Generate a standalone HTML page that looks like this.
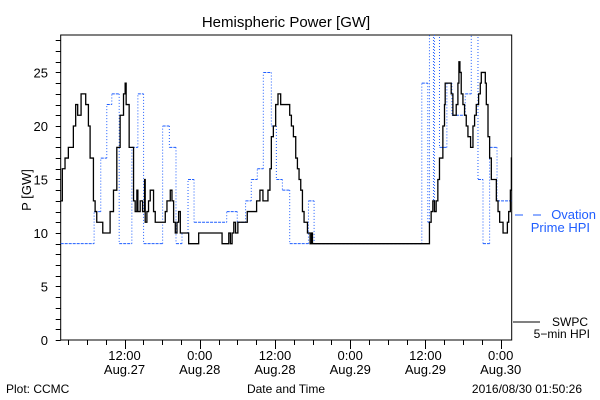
<!DOCTYPE html>
<html><head><meta charset="utf-8">
<style>
html,body{margin:0;padding:0;background:#fff;}
svg{display:block;font-family:"Liberation Sans",sans-serif;}
</style></head>
<body>
<svg id="chart" width="600" height="400" viewBox="0 0 600 400">
<text x="286" y="27" font-size="15" text-anchor="middle">Hemispheric Power [GW]</text>
<text transform="translate(31,190) rotate(-90)" font-size="13" text-anchor="middle">P [GW]</text>
<text x="286" y="393" font-size="12" text-anchor="middle">Date and Time</text>
<text x="6" y="393" font-size="12">Plot: CCMC</text>
<text x="582" y="393" font-size="12" text-anchor="end">2016/08/30 01:50:26</text>
<g id="axes"></g>
<g id="series"></g>
<g>
  <line x1="515" y1="215" x2="523" y2="215" stroke="#1f5eff" stroke-width="1"/>
  <line x1="533" y1="215" x2="541" y2="215" stroke="#1f5eff" stroke-width="1"/>
  <text x="596" y="219" font-size="13" fill="#1f5eff" text-anchor="end">Ovation</text>
  <text x="590" y="232" font-size="13" fill="#1f5eff" text-anchor="end">Prime HPI</text>
  <line x1="513" y1="322" x2="540" y2="322" stroke="#000" stroke-width="1"/>
  <text x="588" y="326" font-size="12" text-anchor="end">SWPC</text>
  <text x="590" y="338" font-size="12" text-anchor="end">5−min HPI</text>
</g>
</svg>
<script>
// hours since Aug 27 00:00
const swpcTimes = [1.82,2.08,2.51,3.04,3.84,4.21,4.53,5.07,5.81,6.24,6.51,7.04,7.31,7.57,8.53,9.44,9.7,10.24,10.77,11.3,11.84,12.1,12.26,12.74,13.44,13.7,13.97,14.13,14.5,14.88,15.2,15.3,15.57,15.83,16.1,16.63,16.9,18.5,18.77,19.3,19.57,19.83,20.1,20.37,20.63,20.9,22.23,23.83,27.56,28.63,28.89,29.16,29.43,29.71,30.08,31.58,33.07,33.6,34.08,34.88,35.2,35.42,35.74,36.11,36.48,36.91,38.35,38.62,38.94,39.31,39.58,39.84,40.11,40.38,40.64,41.18,41.6,41.82,41.98,60.64,60.91,61.18,61.44,61.71,61.98,62.24,62.78,63.04,63.15,64.11,64.38,64.91,65.18,65.34,65.5,65.71,65.98,66.24,66.51,66.78,67.2,67.58,67.84,68.11,68.48,68.75,68.91,69.55,69.71,69.98,70.24,70.51,71.31,71.58,71.84,72.38,73.07,73.28,73.55,73.71];
const swpcValues = [13,16,17,18,20,22,21,23,22,20,17,13,12,11,10,10,12,14,18,21,23,24,22,18,13,12,14,12,13,12,15,11,12,13,14,12,11,12,13,14,13,11,10,11,12,10,9,10,9,10,9,10,11,10,11,12,13,14,13,14,16,19,20,22,23,22,21,20,19,17,16,15,14,12,11,10,9,10,9,11,12,13,12,13,15,17,20,22,24,23,21,22,24,26,25,23,22,21,20,19,18,20,21,22,23,24,25,24,22,19,17,15,13,12,11,10,11,12,14,17];
const ovationTimes = [1.82,7.15,8.21,9.17,9.97,11.15,13.17,14.13,15.04,18.08,19.15,20.21,21.17,22.13,23.09,28.3,29.98,31.31,32.22,33.18,34.14,35.42,36.22,37.18,38.35,41.34,42.24,59.42,60.38,60.64,61.28,61.44,62.24,63.42,64.22,66.35,67.31,68.38,69.18,70.24,71.42];
const ovationValues = [9,12,17,22,23,9,18,23,9,20,18,9,10,15,11,12,11,13,15,16,25,20,15,14,9,13,9,24,11,30,13,30,18,24,21,23,30,15,9,18,13];
const xTickLabels = ["12:00","0:00","12:00","0:00","12:00","0:00"];
const xTickDates = ["Aug.27","Aug.28","Aug.28","Aug.29","Aug.29","Aug.30"];
const xTickHours = [12,24,36,48,60,72];
const yTickLabels = ["0","5","10","15","20","25"];

const NS="http://www.w3.org/2000/svg";
const L=60.7,R=511.7,T=35,B=340;
const H0=1.82,H1=73.76,VMAX=28.5;
const xs=h=>L+(h-H0)/(H1-H0)*(R-L);
const ys=v=>B-v/VMAX*(B-T);
function mk(tag,attrs,parent){const e=document.createElementNS(NS,tag);for(const k in attrs)e.setAttribute(k,attrs[k]);parent.appendChild(e);return e;}
const axes=document.getElementById('axes');
const frame=mk('rect',{x:L,y:T,width:R-L,height:B-T,fill:'none',stroke:'#000','stroke-width':1},axes);


for(let v=0;v<=28;v++){
  const y=Math.round(ys(v))+0.5;
  const t=mk('line',{x1:L-5,x2:L,y1:y,y2:y,stroke:'#000'},axes);
  
  
}
yTickLabels.forEach((s)=>{
  const t=mk('text',{x:48,y:ys(+s)+5,'font-size':13,'text-anchor':'end'},axes);
  t.textContent=s;
  
  
});
for(let h=3;h<=72;h+=3){
  const x=Math.round(xs(h))+0.5,len=(h%12===0)?9:5;
  const t=mk('line',{x1:x,x2:x,y1:B,y2:B+len,stroke:'#000'},axes);
  
  
}
xTickHours.forEach((h,i)=>{
  const x=xs(h);
  const a=mk('text',{x:x,y:360,'font-size':13,'text-anchor':'middle'},axes);
  a.textContent=xTickLabels[i];
  
  
  const b=mk('text',{x:x,y:374,'font-size':13,'text-anchor':'middle'},axes);
  b.textContent=xTickDates[i];
  
  
});
const series=document.getElementById('series');
const defs=mk('defs',{},series);
const cp=mk('clipPath',{id:'clip'},defs);
mk('rect',{x:L,y:T,width:R-L,height:B-T},cp);
// ovation: dashed horizontals, dotted verticals
let hd='',vd='';
for(let i=0;i<ovationTimes.length;i++){
  const x0=xs(ovationTimes[i]);
  const x1=i+1<ovationTimes.length?xs(ovationTimes[i+1]):R;
  const y=ys(ovationValues[i]);
  hd+=`M${x0},${y}H${x1}`;
  if(i+1<ovationTimes.length) vd+=`M${x1},${y}V${ys(ovationValues[i+1])}`;
}
const oh=mk('path',{d:hd,fill:'none',stroke:'#1f5eff','stroke-width':1,'stroke-dasharray':'3,1','clip-path':'url(#clip)'},series);


const ov=mk('path',{d:vd,fill:'none',stroke:'#1f5eff','stroke-width':1,'stroke-dasharray':'1,2','clip-path':'url(#clip)'},series);


// swpc: step line
let d='';
for(let i=0;i<swpcTimes.length;i++){
  const x0=xs(swpcTimes[i]);
  const x1=i+1<swpcTimes.length?xs(swpcTimes[i+1]):R;
  const y=ys(swpcValues[i]);
  d+=(i===0?`M${x0},${y}`:`V${y}`)+`H${x1}`;
}
const sp=mk('path',{d:d,fill:'none',stroke:'#000','stroke-width':1.3,'clip-path':'url(#clip)'},series);


</script>
</body></html>
